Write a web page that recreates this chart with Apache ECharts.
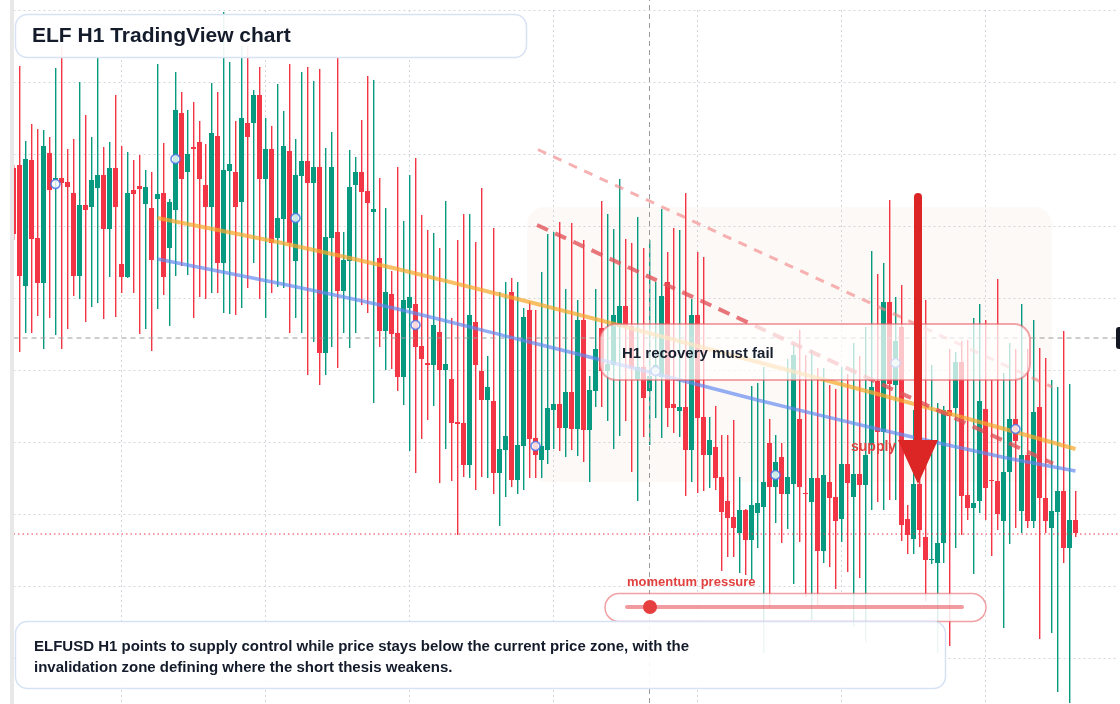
<!DOCTYPE html>
<html><head><meta charset="utf-8">
<script src="https://cdn.jsdelivr.net/npm/echarts@6/dist/echarts.min.js"></script>
<style>html,body{margin:0;padding:0;background:#fff}#c{width:1120px;height:704px}</style>
</head><body><div id="c"></div>
<script>
// ---- data (ELFUSD H1) ----
const open = [
0.4162,0.4165,0.4044,0.4170,0.4092,0.4047,0.4177,0.4150,0.4152,0.4148,
0.4137,0.4054,0.4125,0.4123,0.4142,0.4155,0.4101,0.4162,0.4066,0.4053,
0.4140,0.4144,0.4126,0.4122,0.4131,0.4137,0.4082,0.4120,0.4217,0.4158,
0.4183,0.4188,0.4145,0.4123,0.4194,0.4067,0.4159,0.4158,0.4128,0.4207,
0.4207,0.4235,0.4151,0.4181,0.4092,0.4111,0.4179,0.4069,0.4154,0.4169,
0.4147,0.4163,0.3977,0.4092,0.4098,0.4039,0.4069,0.4145,0.4158,0.4139,
0.4118,0.4072,0.3999,0.4036,0.3997,0.3953,0.4022,0.4026,0.3984,0.3967,
0.3965,0.3998,0.3960,0.3951,0.3908,0.3907,0.3865,0.4008,0.3959,0.3930,
0.3929,0.3857,0.3880,0.4038,0.3850,0.3884,0.4020,0.3892,0.3870,0.3880,
0.3920,0.3926,0.3902,0.3938,0.3901,0.4010,0.3900,0.3939,0.4002,0.3959,
0.3965,0.4003,0.4024,0.4004,0.3951,0.3963,0.3939,0.3958,0.3953,0.4048,
0.3926,0.3919,0.3923,0.3880,0.4015,0.3913,0.3875,0.3883,0.3853,0.3829,
0.3813,0.3797,0.3820,0.3790,0.3817,0.3823,0.3887,0.3843,0.3873,0.3836,
0.3846,0.3911,0.3837,0.3828,0.3852,0.3779,0.3848,0.3833,0.3811,0.3866,
0.3833,0.3856,0.3845,0.3885,0.3949,0.3898,0.4028,0.3945,0.4003,0.3811,
0.3791,0.3846,0.3793,0.3770,0.3767,0.3787,0.3920,0.3922,0.3968,0.3835,
0.3822,0.3829,0.3921,0.3850,0.3849,0.3809,0.3858,0.3911,0.3819,0.3875,
0.3809,0.3923,0.3832,0.3802,0.3818,0.3839,0.3782,0.3810];
const close = [
0.4096,0.4054,0.4171,0.4091,0.4047,0.4184,0.4140,0.4152,0.4147,0.4143,
0.4054,0.4125,0.4120,0.4150,0.4155,0.4101,0.4162,0.4123,0.4053,0.4137,
0.4136,0.4141,0.4143,0.4070,0.4136,0.4053,0.4128,0.4220,0.4151,0.4176,
0.4181,0.4151,0.4123,0.4197,0.4067,0.4160,0.4166,0.4123,0.4212,0.4193,
0.4235,0.4151,0.4181,0.4087,0.4112,0.4184,0.4087,0.4155,0.4169,0.4147,
0.4163,0.3977,0.4093,0.4163,0.4039,0.4070,0.4143,0.4158,0.4138,0.4127,
0.4121,0.3999,0.4038,0.3996,0.3953,0.4030,0.4033,0.3983,0.3971,0.3965,
0.4005,0.3960,0.3966,0.3907,0.3906,0.3865,0.4015,0.3965,0.3930,0.3943,
0.3857,0.3881,0.3894,0.3850,0.3885,0.4013,0.3891,0.3875,0.3884,0.3922,
0.3926,0.3902,0.3938,0.3901,0.4010,0.3900,0.3940,0.3981,0.3959,0.3966,
0.4015,0.4024,0.4003,0.3962,0.3963,0.3932,0.3954,0.3965,0.4034,0.3922,
0.3922,0.3923,0.3880,0.4015,0.3912,0.3875,0.3890,0.3852,0.3818,0.3812,
0.3802,0.3820,0.3790,0.3825,0.3827,0.3848,0.3843,0.3868,0.3836,0.3853,
0.3975,0.3843,0.3836,0.3852,0.3779,0.3855,0.3832,0.3809,0.3866,0.3847,
0.3856,0.3845,0.3875,0.3943,0.3898,0.4028,0.3946,0.3989,0.3805,0.3795,
0.3846,0.3800,0.3770,0.3771,0.3787,0.3920,0.3914,0.3968,0.3834,0.3822,
0.3827,0.3929,0.3842,0.3849,0.3816,0.3858,0.3911,0.3889,0.3875,0.3809,
0.3918,0.3832,0.3809,0.3819,0.3839,0.3782,0.3810,0.3797];
const low = [
0.4090,0.3978,0.3997,0.3997,0.4014,0.3981,0.4012,0.3995,0.3981,0.4001,
0.4034,0.4031,0.4008,0.4023,0.4027,0.4011,0.4053,0.4013,0.4037,0.4052,
0.4037,0.3996,0.4001,0.3979,0.4021,0.4035,0.4004,0.4054,0.4064,0.4055,
0.4012,0.4033,0.4031,0.4037,0.4037,0.4017,0.4016,0.4015,0.4022,0.4042,
0.4067,0.4031,0.4012,0.4037,0.4043,0.4042,0.3997,0.4012,0.3997,0.3955,
0.3988,0.3945,0.3955,0.3983,0.3962,0.3997,0.3982,0.3997,0.4025,0.4017,
0.3927,0.3983,0.3960,0.3961,0.3939,0.3925,0.3879,0.3857,0.3891,0.3910,
0.3924,0.3847,0.3881,0.3849,0.3795,0.3853,0.3852,0.3840,0.3853,0.3852,
0.3836,0.3804,0.3833,0.3843,0.3836,0.3840,0.3852,0.3852,0.3852,0.3866,
0.3881,0.3879,0.3873,0.3880,0.3874,0.3868,0.3848,0.3923,0.3923,0.3909,
0.3881,0.3894,0.3909,0.3858,0.3829,0.3893,0.3885,0.3912,0.3892,0.3903,
0.3897,0.3893,0.3834,0.3848,0.3837,0.3839,0.3842,0.3840,0.3759,0.3773,
0.3773,0.3757,0.3755,0.3750,0.3782,0.3677,0.3722,0.3807,0.3787,0.3801,
0.3746,0.3788,0.3733,0.3710,0.3725,0.3767,0.3763,0.3741,0.3788,0.3758,
0.3703,0.3752,0.3688,0.3820,0.3828,0.3820,0.3830,0.3830,0.3789,0.3776,
0.3776,0.3783,0.3729,0.3766,0.3677,0.3767,0.3684,0.3782,0.3795,0.3810,
0.3756,0.3817,0.3810,0.3774,0.3800,0.3702,0.3786,0.3802,0.3797,0.3802,
0.3802,0.3691,0.3797,0.3697,0.3638,0.3767,0.3627,0.3793];
const high = [
0.4165,0.4264,0.4189,0.4206,0.4201,0.4200,0.4193,0.4262,0.4284,0.4181,
0.4191,0.4248,0.4215,0.4193,0.4273,0.4183,0.4188,0.4235,0.4184,0.4178,
0.4170,0.4175,0.4160,0.4158,0.4266,0.4187,0.4131,0.4258,0.4238,0.4220,
0.4228,0.4209,0.4186,0.4247,0.4238,0.4318,0.4268,0.4209,0.4284,0.4284,
0.4240,0.4263,0.4212,0.4204,0.4246,0.4219,0.4266,0.4191,0.4258,0.4263,
0.4249,0.4261,0.4182,0.4198,0.4273,0.4098,0.4180,0.4173,0.4210,0.4254,
0.4250,0.4152,0.4122,0.4059,0.4163,0.4109,0.4155,0.4172,0.4115,0.4100,
0.4097,0.4082,0.4129,0.4012,0.4090,0.4116,0.4116,0.4088,0.4142,0.3974,
0.4102,0.4038,0.4048,0.4052,0.4048,0.4022,0.4028,0.4020,0.4058,0.4096,
0.4098,0.4108,0.4041,0.4107,0.4030,0.4090,0.3954,0.4041,0.4129,0.4116,
0.4101,0.4151,0.4091,0.4087,0.4113,0.4082,0.4090,0.4048,0.4121,0.4078,
0.4102,0.4100,0.4137,0.4031,0.4078,0.4073,0.3913,0.3924,0.3895,0.3895,
0.3910,0.3853,0.3821,0.3944,0.3947,0.3963,0.3911,0.3895,0.3887,0.3971,
0.3986,0.4000,0.3975,0.3980,0.3962,0.3962,0.3945,0.3941,0.3963,0.3956,
0.3987,0.3974,0.4003,0.4079,0.4056,0.4067,0.4130,0.4033,0.4045,0.3825,
0.3920,0.4030,0.4030,0.3965,0.3927,0.3924,0.3981,0.3978,0.3989,0.3990,
0.4012,0.4026,0.4010,0.3950,0.4051,0.3957,0.3987,0.3981,0.4026,0.3981,
0.4010,0.3982,0.3972,0.3950,0.3943,0.3999,0.3946,0.3839];

// hourly category labels (185 slots: 178 candles + empty right margin)
const categories = [];
for (let i = 0; i < 185; i++) {
  const d = new Date(Date.UTC(2024, 4, 1, 0) + i * 3600e3);
  categories.push(d.toISOString().slice(5, 13).replace('T', ' ') + ':00');
}

// pivot markers
const markerIdx = [7, 27, 47, 67, 87, 107, 127, 147, 167];
const markerVal = [0.4146, 0.4171, 0.4112, 0.4005, 0.3884, 0.3959, 0.3855, 0.3967, 0.3901];

// trend channel lines
const trendIdx   = [24, 44, 64, 84, 104, 124, 144, 164, 177];
const orangeVals = [0.4112, 0.4088, 0.4061, 0.4031, 0.4000, 0.3968, 0.3936, 0.3903, 0.3881];
const blueVals   = [0.4071, 0.4047, 0.4021, 0.3991, 0.3961, 0.3930, 0.3901, 0.3874, 0.3859];

// dashed supply trendlines
const upperDashIdx = [87.4, 173.1];
const upperDashVal = [0.41805, 0.3943];
const lowerDashIdx = [87.25, 173.25];
const lowerDashVal = [0.4105, 0.38665];

// levels
const crossIdx = 106;
const crossVal = 0.3992;
const priceLine = 0.3796;

// axis
const yMin = 0.36, yMax = 0.432, yStep = 0.0072;
const lastSlot = 184;

// ---- chart ----
const FONT = '"Liberation Sans", Arial, sans-serif';
const UP = '#089981', DOWN = '#F23645';
const chart = echarts.init(document.getElementById('c'), null, {renderer: 'canvas'});
const candleRows = open.map((o, i) => [i, o, close[i], low[i], high[i]]);
const gridLine = {show: true, lineStyle: {color: '#d3d6dc', width: 1, type: [2, 3]}};

function renderCandle(params, api) {
  const i = api.value(0), o = api.value(1), c = api.value(2), l = api.value(3), h = api.value(4);
  const pO = api.coord([i, o]), pC = api.coord([i, c]);
  const pL = api.coord([i, l]), pH = api.coord([i, h]);
  const x = Math.round(pO[0] - 0.5) + 0.5;
  const col = c >= o ? UP : DOWN;
  const top = Math.min(pO[1], pC[1]);
  const bh = Math.max(1, Math.abs(pO[1] - pC[1]));
  return {type: 'group', children: [
    {type: 'rect', shape: {x: x - 0.5, y: pH[1], width: 1.4, height: pL[1] - pH[1]},
     style: {fill: col, stroke: null, opacity: 1}},
    {type: 'rect', shape: {x: x - 2.5, y: top, width: 5, height: bh}, style: {fill: col, stroke: null}}
  ]};
}

function hLine(v, color, width, dash) {
  return {type: 'line', xAxisIndex: 1, data: [[0, v], [lastSlot, v]], showSymbol: false, silent: true,
          lineStyle: {color: color, width: width, type: dash}, z: 3};
}

chart.setOption({
  animation: false,
  backgroundColor: '#ffffff',
  grid: {left: 13.5, top: 10, width: 1104, height: 720, containLabel: false, outerBoundsMode: 'none'},
  xAxis: [
    {type: 'category', data: categories, boundaryGap: false,
     axisLine: {show: false}, axisTick: {show: false}, axisLabel: {show: false},
     splitLine: Object.assign({interval: (i) => i % 24 === 18}, gridLine)},
    {type: 'value', min: 0, max: lastSlot, show: false, splitLine: {show: false}}
  ],
  yAxis: {type: 'value', position: 'right', min: yMin, max: yMax, interval: yStep,
    axisLine: {show: false}, axisTick: {show: false}, axisLabel: {show: false},
    splitLine: gridLine},
  series: [
    {type: 'custom', data: candleRows, renderItem: renderCandle, clip: true,
     encode: {x: 0, y: [1, 2, 3, 4]}, z: 2},
    hLine(priceLine, DOWN, 1, [1.5, 3]),
    hLine(crossVal, '#9a9a9a', 1, [5, 4]),
    {type: 'line', xAxisIndex: 1, data: [[crossIdx, yMin], [crossIdx, yMax + 0.001]], showSymbol: false, silent: true,
     clip: false, lineStyle: {color: '#9a9a9a', width: 1, type: [5, 4]}, z: 3},
    {type: 'line', xAxisIndex: 1, data: trendIdx.map((x, i) => [x, orangeVals[i]]),
     smooth: 0.2, showSymbol: false, lineStyle: {color: 'rgba(247,168,45,0.72)', width: 4}, z: 4},
    {type: 'line', xAxisIndex: 1, data: trendIdx.map((x, i) => [x, blueVals[i]]),
     smooth: 0.2, showSymbol: false, lineStyle: {color: 'rgba(96,136,240,0.68)', width: 3.5}, z: 4},
    {type: 'line', xAxisIndex: 1, data: upperDashIdx.map((x, i) => [x, upperDashVal[i]]),
     showSymbol: false, lineStyle: {color: 'rgba(240,130,130,0.62)', width: 3, type: [9, 8]}, z: 4},
    {type: 'line', xAxisIndex: 1, data: lowerDashIdx.map((x, i) => [x, lowerDashVal[i]]),
     showSymbol: false, lineStyle: {color: 'rgba(226,80,86,0.78)', width: 4, type: [12, 8]}, z: 4},
    {type: 'scatter', data: markerIdx.map((x, i) => [x, markerVal[i]]), symbol: 'circle', symbolSize: 9,
     itemStyle: {color: '#ffffff', borderColor: '#4470e6', borderWidth: 1.6}, z: 5}
  ],
  graphic: [
    {type: 'rect', shape: {x: 10, y: 0, width: 4, height: 704}, style: {fill: '#e8e8e8'}, z: 50},
    {type: 'rect', shape: {x: 527, y: 207, width: 525, height: 275, r: 18},
     style: {fill: 'rgba(240,200,170,0.1)'}, z: 1},
    {type: 'rect', shape: {x: 15.5, y: 14.5, width: 511, height: 43, r: 12},
     style: {fill: 'rgba(255,255,255,0.92)', stroke: '#d7e2f5', lineWidth: 1.5}, z: 100},
    {type: 'text', style: {text: 'ELF H1 TradingView chart', x: 32, y: 36, verticalAlign: 'middle',
      font: 'bold 21px ' + FONT, fill: '#141b2b'}, z: 101},
    {type: 'rect', shape: {x: 600, y: 324, width: 430, height: 56, r: 16},
     style: {fill: 'rgba(255,255,255,0.72)', stroke: 'rgba(232,92,102,0.55)', lineWidth: 2}, z: 100},
    {type: 'text', style: {text: 'H1 recovery must fail', x: 622, y: 354, verticalAlign: 'middle',
      font: 'bold 15px ' + FONT, fill: '#171e2e'}, z: 101},
    {type: 'text', style: {text: 'supply zone', x: 851, y: 447, verticalAlign: 'middle',
      font: 'bold 14px ' + FONT, fill: '#e2403f'}, z: 101},
    {type: 'line', shape: {x1: 918, y1: 197, x2: 918, y2: 445},
     style: {stroke: '#dc2626', lineWidth: 8, lineCap: 'round'}, z: 110},
    {type: 'polygon', shape: {points: [[898, 440], [938, 440], [918, 484]]},
     style: {fill: '#dc2626'}, z: 110},
    {type: 'text', style: {text: 'momentum pressure', x: 627, y: 582, verticalAlign: 'middle',
      font: 'bold 13px ' + FONT, fill: '#e2403f'}, z: 101},
    {type: 'rect', shape: {x: 605, y: 593.5, width: 381, height: 28, r: 14},
     style: {fill: 'rgba(255,255,255,0.85)', stroke: 'rgba(232,96,104,0.6)', lineWidth: 1.5}, z: 100},
    {type: 'line', shape: {x1: 627, y1: 607, x2: 962, y2: 607},
     style: {stroke: 'rgba(232,92,102,0.62)', lineWidth: 4, lineCap: 'round'}, z: 101},
    {type: 'circle', shape: {cx: 650, cy: 607, r: 7}, style: {fill: '#e53e3e'}, z: 102},
    {type: 'rect', shape: {x: 15.5, y: 621.5, width: 930, height: 67, r: 12},
     style: {fill: 'rgba(255,255,255,0.92)', stroke: '#d5e1f5', lineWidth: 1.5}, z: 100},
    {type: 'text', style: {text: 'ELFUSD H1 points to supply control while price stays below the current price zone, with the',
      x: 34, y: 647, verticalAlign: 'middle', font: 'bold 15px ' + FONT, fill: '#141b2b'}, z: 101},
    {type: 'text', style: {text: 'invalidation zone defining where the short thesis weakens.',
      x: 34, y: 668, verticalAlign: 'middle', font: 'bold 15px ' + FONT, fill: '#141b2b'}, z: 101},
    {type: 'rect', shape: {x: 1116, y: 327, width: 16, height: 22, r: 3}, style: {fill: '#131722'}, z: 100}
  ]
});
</script>
</body></html>
